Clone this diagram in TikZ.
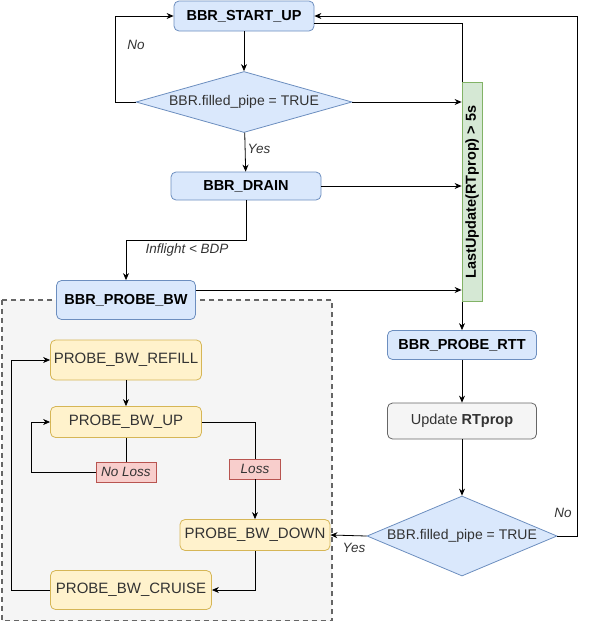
\documentclass[tikz,border=0pt]{standalone}
\usepackage{fontspec}
\setmainfont{Liberation Sans}
\usetikzlibrary{arrows.meta,shapes.geometric}

\definecolor{bluefill}{HTML}{DAE8FC}
\definecolor{blueline}{HTML}{6C8EBF}
\definecolor{yelfill}{HTML}{FFF2CC}
\definecolor{yelline}{HTML}{D6B656}
\definecolor{redfill}{HTML}{F8CECC}
\definecolor{redline}{HTML}{B85450}
\definecolor{grnfill}{HTML}{D5E8D4}
\definecolor{grnline}{HTML}{82B366}
\definecolor{grayfill}{HTML}{F5F5F5}
\definecolor{grayline}{HTML}{666666}
\definecolor{graytext}{HTML}{333333}

\begin{document}
\begin{tikzpicture}[x=1pt,y=-1pt]
		\tikzset{state/.style = {draw=blueline, fill=bluefill, rounded corners=5pt, line width=0.8pt,
				font=\fontsize{14.5}{16}\selectfont\bfseries, inner sep=0pt}}
		\tikzset{phase/.style = {draw=yelline, fill=yelfill, rounded corners=5pt, line width=0.8pt,
				font=\fontsize{15}{17}\selectfont, text=graytext, inner sep=0pt}}
		\tikzset{cond/.style = {diamond, draw=blueline, fill=bluefill, line width=0.8pt,
				font=\fontsize{14}{16}\selectfont, text=graytext, inner sep=0pt}}
		\tikzset{tag/.style = {draw=redline, fill=redfill, line width=0.8pt,
				font=\fontsize{13.5}{16}\selectfont\itshape, text=graytext, inner sep=0pt}}
		\tikzset{lbl/.style = {font=\fontsize{13.5}{16}\selectfont\itshape, text=graytext}}
		\tikzset{edge/.style = {-{Stealth[length=7pt,width=6pt]}, line width=0.8pt}}
		\tikzset{line/.style = {line width=0.8pt}}
		
		\useasboundingbox (0,0) rectangle (593,622);
		
		% probe bw sub-states area
		\draw[draw=grayline, fill=grayfill, dashed, dash pattern=on 5pt off 4pt, line width=1.2pt]
			(2,300) rectangle (332,620.5);
		
		\node[state, minimum width=140, minimum height=30]  (su)  at ( 244,  16) {BBR\_START\_UP};
		\node[cond, aspect=3.5, minimum width=216, minimum height=61] (d1) at ( 244, 102) {BBR.filled\_pipe = TRUE};
		\node[state, minimum width=150, minimum height=28]  (dr)  at ( 246, 186) {BBR\_DRAIN};
		\node[state, minimum width=139, minimum height=39]  (pbw) at ( 126, 300) {BBR\_PROBE\_BW};
		\node[state, minimum width=149, minimum height=29]  (rtt) at ( 462, 345) {BBR\_PROBE\_RTT};
		\node[draw=grayline, fill=grayfill, rounded corners=5pt, line width=0.8pt, text=graytext,
			font=\fontsize{14.5}{16}\selectfont, minimum width=149, minimum height=36, inner sep=0pt]
			(up2) at ( 462, 421) {Update \textbf{RTprop}};
		\node[cond, aspect=2.4, minimum width=190, minimum height=80] (d2) at ( 462, 536) {BBR.filled\_pipe = TRUE};
		
		\node[phase, minimum width=151, minimum height=40]  (rf)  at ( 126, 360) {PROBE\_BW\_REFILL};
		\node[phase, minimum width=151, minimum height=31]  (up)  at ( 126, 422) {PROBE\_BW\_UP};
		\node[phase, minimum width=150, minimum height=31]  (dn)  at ( 255, 535) {PROBE\_BW\_DOWN};
		\node[phase, minimum width=161, minimum height=39]  (cr)  at ( 131, 590) {PROBE\_BW\_CRUISE};
		
		\node[tag, minimum width=60, minimum height=20]  (nl) at ( 126, 472) {No Loss};
		\node[tag, minimum width=51, minimum height=20]  (ls) at ( 255, 469) {Loss};
		
		% main cycle
		\draw[edge] (su) -- (d1);
		\draw[edge] (d1) -- (dr);
		\draw[edge] (d1.west) -- ++(-20,0) |- (su.west);
		\draw[edge] (dr.south) -- ++(0,40) -| (pbw.north);
		\draw[edge] ([yshift=-7pt]su.east) -| (rtt.north);
		\draw[edge] (rtt) -- (up2);
		\draw[edge] (up2) -- (d2);
		\draw[edge] (d2.east) -- ++(20,0) |- (su.east);
		\draw[edge] (d2.west) -- (dn.east);
		
		\node[draw=grnline, fill=grnfill, line width=0.8pt, rotate=90, minimum width=219, minimum height=20,
			inner sep=0pt, font=\fontsize{14.5}{16}\selectfont\bfseries] (lu) at ( 472, 192) {LastUpdate(RTprop) > 5s};
		\draw[edge] (d1.east) -- (d1.east -| lu.north);
		\draw[edge] (dr.east) -- (dr.east -| lu.north);
		\draw[edge] (pbw.east |- 0,290) -- (lu.north |- 0,290);
		
		% probe bw cycle
		\draw[edge] (rf) -- (up);
		\draw[line] (up.east) -| (ls.north);
		\draw[edge] (ls.south) -- (dn.north);
		\draw[line] (up.south) -- (nl.north);
		\draw[edge] (nl.west) -- ++(-64,0) |- (up.west);
		\draw[edge] (dn.south) |- (cr.east);
		\draw[edge] (cr.west) -- ++(-39,0) |- (rf.west);
		
		\node[lbl] (no1)  at ( 136,  45) {No};
		\node[lbl] (yes1) at ( 259, 149) {Yes};
		\node[lbl] (infl) at ( 187, 250) {Inflight < BDP};
		\node[lbl] (no2)  at ( 563, 513) {No};
		\node[lbl] (yes2) at ( 354, 548) {Yes};
\end{tikzpicture}
\end{document}
